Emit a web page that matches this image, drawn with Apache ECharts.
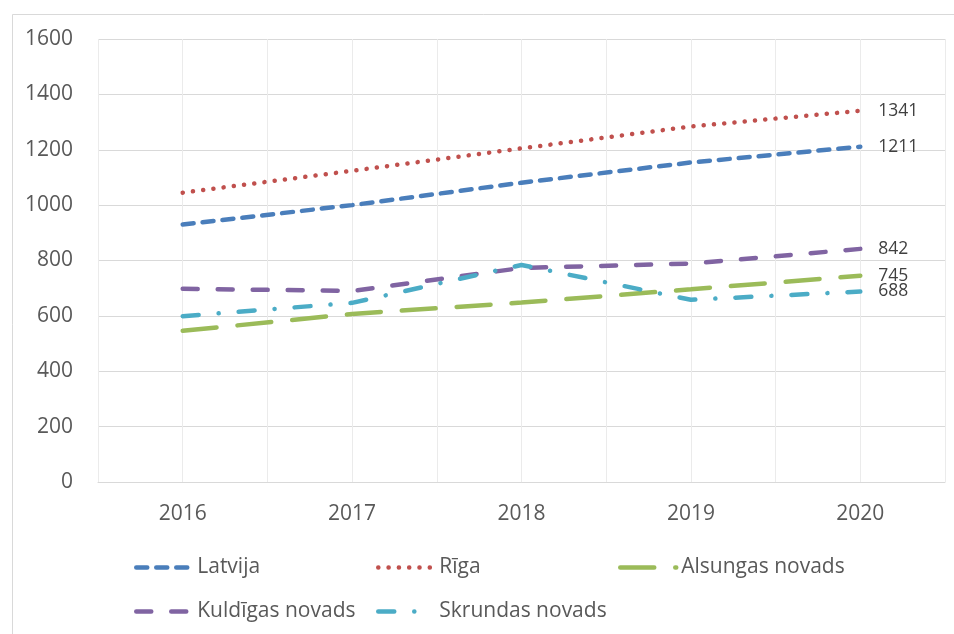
<!DOCTYPE html>
<html>
<head>
<meta charset="utf-8">
<script src="https://cdn.jsdelivr.net/npm/echarts@6/dist/echarts.min.js"></script>
<style>
  html, body { margin: 0; padding: 0; background: #ffffff; }
  #chart { width: 954px; height: 634px; }
</style>
</head>
<body>
<div id="chart"></div>
<script>
// Years on the horizontal axis
const years = ['2016', '2017', '2018', '2019', '2020'];

// Series values per year
const latvija = [930, 1000, 1081, 1154, 1211];
const riga = [1045, 1124, 1205, 1284, 1341];
const alsungas = [546, 607, 648, 696, 745];
const kuldigas = [698, 690, 773, 789, 842];
const skrundas = [599, 647, 784, 658, 688];

// Vertical axis ticks
const yTicks = [0, 200, 400, 600, 800, 1000, 1200, 1400, 1600];

const FONT = '"Open Sans", "Liberation Sans", sans-serif';
const AXIS_COLOR = '#595959';
const LINE_W = 4.5;

function lineSeries(name, data, color, dash) {
  return {
    name: name,
    type: 'line',
    xAxisIndex: 0,
    yAxisIndex: 0,
    data: data,
    symbol: 'none',
    smooth: false,
    lineStyle: { color: color, width: LINE_W, type: dash, cap: 'round' },
    itemStyle: { color: color },
    endLabel: {
      show: true,
      distance: 18,
      formatter: p => String(p.value),
      color: '#404040',
      fontFamily: FONT,
      fontSize: 17.5
    },
    emphasis: { disabled: true },
    animation: false
  };
}

function legendBlock(left, names) {
  return {
    orient: 'vertical',
    left: left,
    top: 557,
    padding: 0,
    itemGap: 23,
    itemWidth: 56,
    itemHeight: 14,
    data: names,
    selectedMode: false,
    itemStyle: { opacity: 0 },
    lineStyle: { width: LINE_W },
    textStyle: {
      color: AXIS_COLOR,
      fontFamily: FONT,
      fontSize: 21
    }
  };
}

const chart = echarts.init(document.getElementById('chart'), null, { renderer: 'canvas' });

chart.setOption({
  backgroundColor: '#ffffff',
  animation: false,
  graphic: [{
    type: 'rect',
    left: 10,
    top: 12,
    shape: { width: 970, height: 640 },
    style: { fill: 'none', stroke: '#d9d9d9', lineWidth: 1 },
    silent: true,
    z: -10
  }],
  grid: { left: 98, right: 9, top: 39, bottom: 152, containLabel: false },
  legend: [
    legendBlock(134, ['Latvija', 'Kuldīgas novads']),
    legendBlock(376, ['Rīga', 'Skrundas novads']),
    legendBlock(618, ['Alsungas novads'])
  ],
  xAxis: [
    {
      type: 'category',
      data: years,
      boundaryGap: true,
      axisLine: { show: true, lineStyle: { color: '#d9d9d9', width: 1 } },
      axisTick: { show: false },
      splitLine: { show: false },
      axisLabel: {
        color: AXIS_COLOR,
        fontFamily: FONT,
        fontSize: 21,
        margin: 22
      }
    },
    {
      // helper axis for the gridlines at category centres and boundaries
      type: 'value',
      min: 0,
      max: 10,
      interval: 1,
      position: 'bottom',
      show: true,
      axisLine: { show: false },
      axisTick: { show: false },
      axisLabel: { show: false },
      splitLine: { show: true, lineStyle: { color: '#ebebeb', width: 1 } }
    }
  ],
  yAxis: {
    type: 'value',
    min: yTicks[0],
    max: yTicks[yTicks.length - 1],
    interval: yTicks[1] - yTicks[0],
    axisLine: { show: false },
    axisTick: { show: false },
    splitLine: { show: true, lineStyle: { color: '#d9d9d9', width: 1 } },
    axisLabel: {
      color: AXIS_COLOR,
      fontFamily: FONT,
      fontSize: 21,
      margin: 25,
      formatter: v => String(v)
    }
  },
  series: [
    lineSeries('Latvija', latvija, '#4A7EBB', [11, 9]),
    lineSeries('Rīga', riga, '#C0504D', [0.1, 10.2]),
    lineSeries('Alsungas novads', alsungas, '#9BBB59', [34, 21]),
    lineSeries('Kuldīgas novads', kuldigas, '#8064A2', [15, 20]),
    lineSeries('Skrundas novads', skrundas, '#4BACC6', [16, 20, 0.1, 20])
  ]
});
</script>
</body>
</html>
